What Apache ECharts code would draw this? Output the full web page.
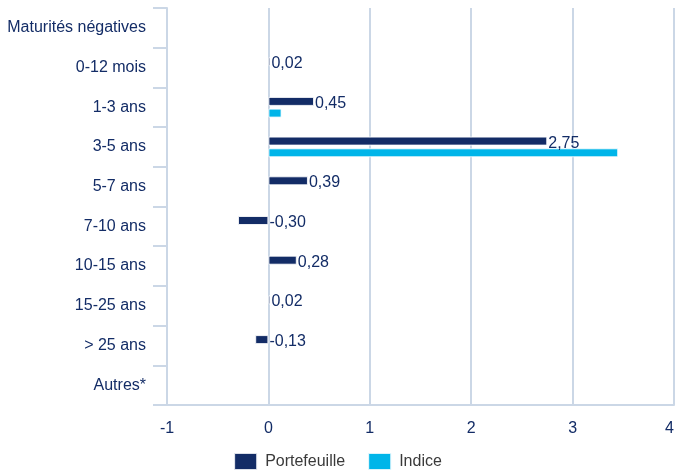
<!DOCTYPE html>
<html>
<head>
<meta charset="utf-8">
<script src="https://cdn.jsdelivr.net/npm/echarts@6/dist/echarts.min.js"></script>
<style>
  html, body { margin: 0; padding: 0; background: #fff; }
  #chart { width: 675px; height: 470px; }
</style>
</head>
<body>
<div id="chart"></div>
<script>
// data
const categories = ['Maturités négatives', '0-12 mois', '1-3 ans', '3-5 ans', '5-7 ans',
  '7-10 ans', '10-15 ans', '15-25 ans', '> 25 ans', 'Autres*'];
const portefeuille = [null, 0.02, 0.45, 2.75, 0.39, -0.30, 0.28, 0.02, -0.13, null];
const indice = [null, null, 0.13, 3.45, null, null, null, null, null, null];
const xTicks = [-1, 0, 1, 2, 3, 4];

const navy = '#132c66';
const cyan = '#00b5e9';
const lineColor = '#cbd7e6';
const font = '"Liberation Sans", Arial, sans-serif';

const chart = echarts.init(document.getElementById('chart'));

chart.setOption({
  animation: false,
  textStyle: { fontFamily: font },
  grid: { left: 167, right: 1, top: 8, bottom: 65, outerBoundsMode: 'none', containLabel: false },
  legend: {
    top: 447,
    left: 'center',
    itemWidth: 23,
    itemHeight: 17,
    itemGap: 22,
    icon: 'rect',
    textStyle: { fontSize: 16, color: '#3a3a3a', fontFamily: font, padding: [0, 0, 0, 3] },
    data: ['Portefeuille', 'Indice']
  },
  xAxis: {
    type: 'value',
    min: xTicks[0],
    max: xTicks[xTicks.length - 1],
    interval: 1,
    axisLine: { show: true, onZero: false, lineStyle: { color: lineColor, width: 2 } },
    axisTick: { show: false },
    splitLine: { show: true, lineStyle: { color: lineColor, width: 2 } },
    axisLabel: { color: navy, fontSize: 16, margin: 16, fontFamily: font, alignMaxLabel: 'right' }
  },
  yAxis: {
    type: 'category',
    inverse: true,
    data: categories,
    axisLine: { show: true, onZero: false, lineStyle: { color: lineColor, width: 2 } },
    axisTick: { show: true, length: 14, lineStyle: { color: lineColor, width: 2 } },
    axisLabel: { color: navy, fontSize: 16, margin: 21, fontFamily: font, padding: [5, 0, 0, 0] }
  },
  series: [
    {
      name: 'Portefeuille',
      type: 'bar',
      data: portefeuille,
      barWidth: 9,
      barGap: '30%',
      itemStyle: { color: navy, borderColor: 'rgba(255,255,255,0.85)', borderWidth: 1 },
      label: {
        show: true,
        position: 'right',
        distance: 1,
        offset: [0, 2],
        color: navy,
        fontSize: 16,
        fontFamily: font,
        formatter: p => p.value == null ? '' : p.value.toFixed(2).replace('.', ',')
      }
    },
    {
      name: 'Indice',
      type: 'bar',
      data: indice,
      barWidth: 9,
      barGap: '30%',
      itemStyle: { color: cyan, borderColor: 'rgba(255,255,255,0.85)', borderWidth: 1 }
    }
  ]
});
</script>
</body>
</html>
